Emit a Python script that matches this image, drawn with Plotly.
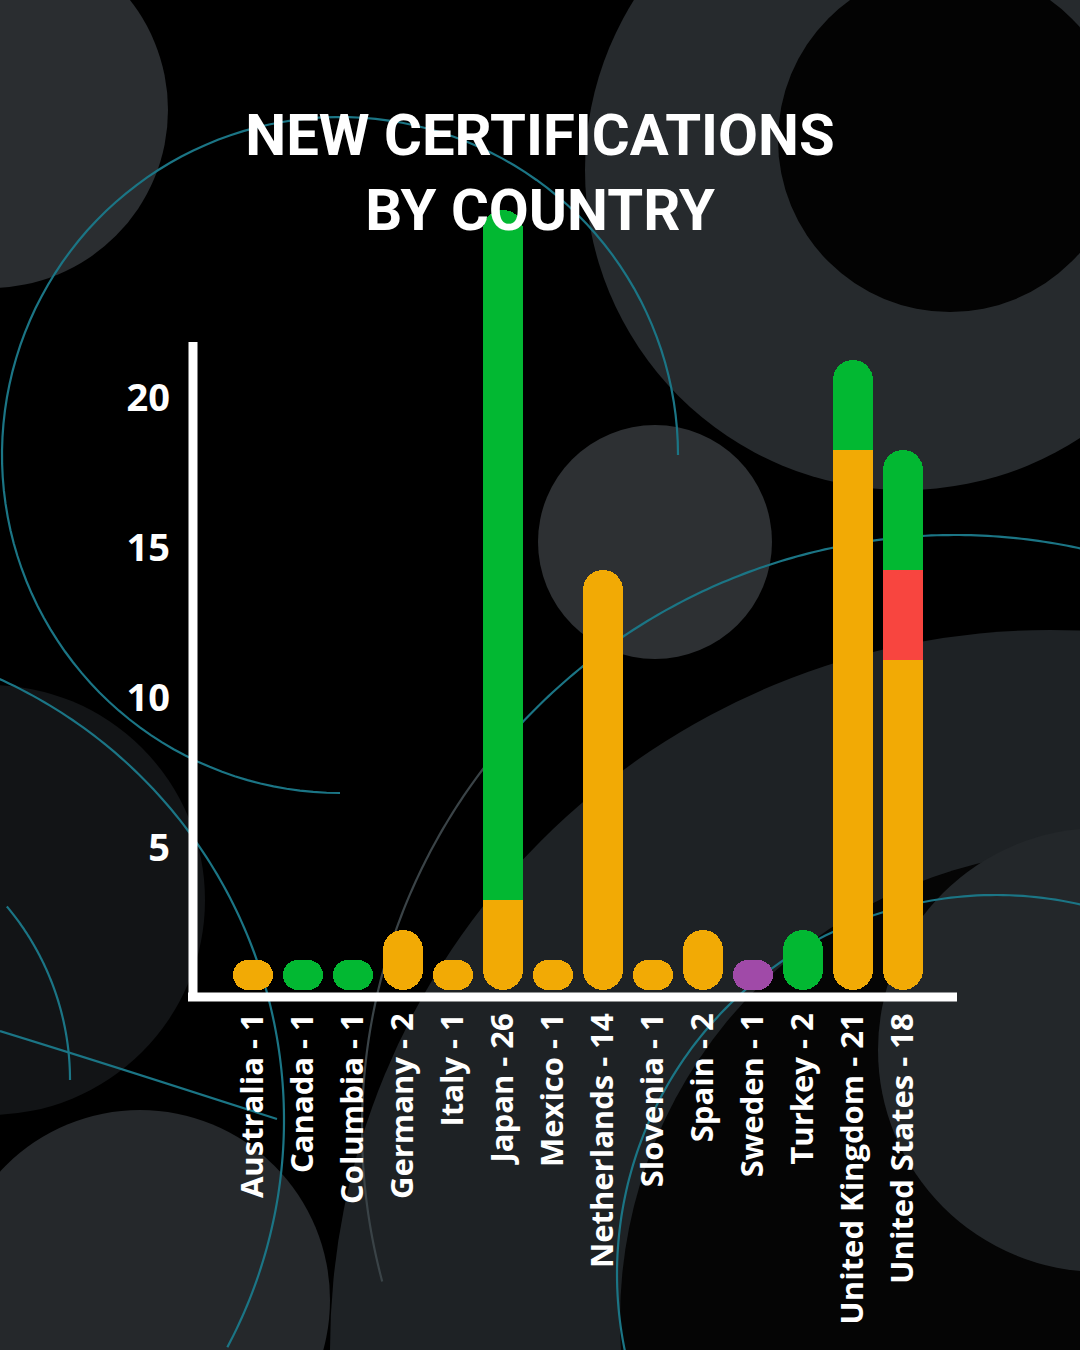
import numpy as np
import plotly.graph_objects as go

# ---------------- data ----------------
countries = ["Australia", "Canada", "Columbia", "Germany", "Italy", "Japan", "Mexico",
             "Netherlands", "Slovenia", "Spain", "Sweden", "Turkey",
             "United Kingdom", "United States"]
orange = [1, 0, 0, 2, 1, 3, 1, 14, 1, 2, 0, 0, 18, 11]
red    = [0, 0, 0, 0, 0, 0, 0, 0, 0, 0, 0, 0, 0, 3]
purple = [0, 0, 0, 0, 0, 0, 0, 0, 0, 0, 1, 0, 0, 0]
green  = [0, 1, 1, 0, 0, 23, 0, 0, 0, 0, 0, 2, 3, 4]
y_ticks = [5, 10, 15, 20]
title_text = "NEW CERTIFICATIONS<br>BY COUNTRY"

# ---------------- styling ----------------
COLORS = {"orange": "#F2AA05", "red": "#F8453F", "purple": "#A04AA8", "green": "#02B832"}
W, H = 1080, 1350
L, R, T, B = 193, 957, 200, 997          # plot area in pixels
Y_RANGE = [-7 / 30, 790 / 30]
X_RANGE = [-1.2, 14.08]
PPU = (B - T) / (Y_RANGE[1] - Y_RANGE[0])  # pixels per unit
BAR_R = 20
TEAL = "#1b7585"

fig = go.Figure()


def add_piece(country, base, length, color, radius):
    fig.add_trace(go.Bar(
        x=[country], y=[length], base=[base], width=0.8,
        marker=dict(color=color, cornerradius=radius, line=dict(width=0)),
        showlegend=False, hoverinfo="skip"))


series = [("orange", orange), ("red", red), ("purple", purple), ("green", green)]
for i, c in enumerate(countries):
    segs = []
    b = 0
    for name, vals in series:
        v = vals[i]
        if v > 0:
            segs.append((name, b, b + v))
            b += v
    total = b
    # full capsule in the colour of the bottom segment
    add_piece(c, 0, total, COLORS[segs[0][0]], min(BAR_R, total * PPU / 2))
    for k in range(1, len(segs)):
        name, b0, t0 = segs[k]
        ln = t0 - b0
        if k == len(segs) - 1:
            add_piece(c, b0, ln, COLORS[name], min(BAR_R, ln * PPU / 2))
            add_piece(c, b0, ln / 2, COLORS[name], 0)
        else:
            add_piece(c, b0, ln, COLORS[name], 0)

totals = [o + r_ + p + g for o, r_, p, g in zip(orange, red, purple, green)]
tick_labels = [f"{c} - {t}" for c, t in zip(countries, totals)]

# ---------------- decorations ----------------
def to_paper(X, Y):
    return ((X - L) / (R - L), (B - Y) / (B - T))

shapes = []

def disc(cx, cy, r, color):
    x0, y0 = to_paper(cx - r, cy + r)
    x1, y1 = to_paper(cx + r, cy - r)
    shapes.append(dict(type="circle", xref="paper", yref="paper", x0=x0, y0=y0, x1=x1, y1=y1,
                       fillcolor=color, line=dict(width=0), layer="below"))

def arc(cx, cy, r, a0, a1, color, width=2.2):
    angs = np.radians(np.linspace(a0, a1, 120))
    pts = [to_paper(cx + r * np.cos(a), cy + r * np.sin(a)) for a in angs]
    path = "M " + " L ".join(f"{x:.5f},{y:.5f}" for x, y in pts)
    shapes.append(dict(type="path", xref="paper", yref="paper", path=path,
                       line=dict(color=color, width=width), layer="below"))

disc(-10, 110, 178, "#2a2d30")
disc(905, 170, 320, "#262a2d")
disc(950, 140, 172, "#030303")
disc(-10, 900, 215, "#121416")
disc(1050, 1350, 720, "#1e2225")
disc(1090, 1320, 470, "#050505")
disc(1100, 1050, 222, "#23272a")
disc(140, 1300, 190, "#25282b")
disc(655, 542, 117, "#2d3033")

arc(340, 455, 338, 90, 360, TEAL)
arc(-200, 1120, 484, -66, 28, TEAL)
arc(-200, 1080, 270, -40, 0, TEAL)
arc(996, 1274, 379, 165, 283, TEAL)
arc(955, 1128, 593, 165, 218, "#3a4347")
arc(955, 1128, 593, 218, 283, TEAL)
p0 = to_paper(0, 1031); p1 = to_paper(120, 1068); p2 = to_paper(277, 1119)
shapes.append(dict(type="path", xref="paper", yref="paper",
                   path=f"M {p0[0]},{p0[1]} Q {p1[0]},{p1[1]} {p2[0]},{p2[1]}",
                   line=dict(color=TEAL, width=2.2), layer="below"))

# axis lines
ya0 = to_paper(193, 1001); ya1 = to_paper(193, 342)
shapes.append(dict(type="line", xref="paper", yref="paper", x0=0, x1=0, y0=ya0[1], y1=ya1[1],
                   line=dict(color="white", width=9), layer="above"))
xa0 = to_paper(188, 997)
shapes.append(dict(type="line", xref="paper", yref="paper", x0=xa0[0], x1=1, y0=0, y1=0,
                   line=dict(color="white", width=9), layer="above"))

fig.update_layout(
    width=W, height=H,
    paper_bgcolor="#000000", plot_bgcolor="rgba(0,0,0,0)",
    margin=dict(l=L, r=W - R, t=T, b=H - B, pad=0),
    barmode="overlay", bargap=0,
    shapes=shapes,
    title=dict(text=title_text, x=0.5, xref="container", xanchor="center",
               y=1 - 155 / H, yref="container", yanchor="top",
               font=dict(family="Roboto", size=58, color="white", weight=700)),
    xaxis=dict(type="category", categoryarray=countries, categoryorder="array",
               range=X_RANGE, tickmode="array", tickvals=countries, ticktext=tick_labels,
               tickangle=-90, ticks="", showgrid=False, zeroline=False, showline=False,
               ticklabelstandoff=9,
               tickfont=dict(family="Open Sans", size=31, color="white", weight=700)),
    yaxis=dict(range=Y_RANGE, tickmode="array", tickvals=y_ticks, ticks="",
               showgrid=False, zeroline=False, showline=False,
               ticklabelstandoff=22, ticklabelshift=8,
               tickfont=dict(family="Open Sans", size=38, color="white", weight=700)),
    showlegend=False,
)

fig.write_html("out.html", post_script="document.body.style.margin='0';",
               config={"displayModeBar": False})
